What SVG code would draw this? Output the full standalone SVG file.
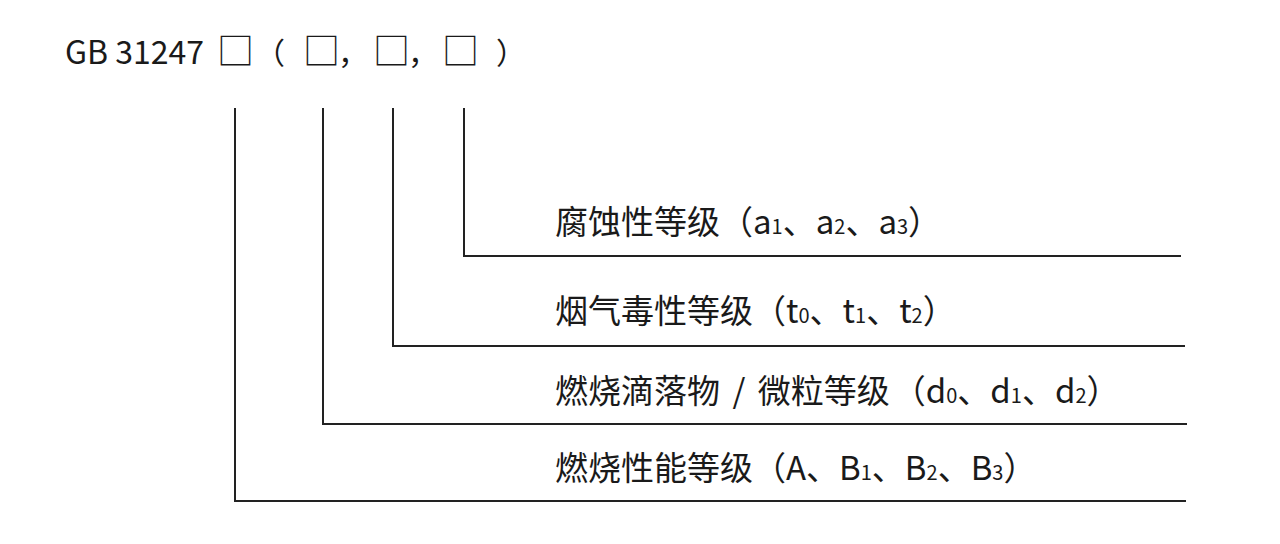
<svg xmlns="http://www.w3.org/2000/svg" width="1280" height="544" viewBox="0 0 1280 544">
<style>
.t{font-family:"Noto Sans CJK SC","Noto Sans",sans-serif;fill:#1a1a1a;}
.h{font-size:30px;}
.g{font-size:32px;}
.b{font-size:37px;}
.l{font-size:33px;}
.s{font-size:20px;}
.c line{stroke:#222;stroke-width:2;fill:none;}
</style>
<rect width="1280" height="544" fill="#fff"/>
<g id="title" class="t h">
<text y="64"><tspan class="g" x="65">GB 31247</tspan><tspan class="b" x="217" y="65">□</tspan><tspan x="255" y="64">（</tspan><tspan class="b" x="303" y="65">□</tspan><tspan x="338" y="64">，</tspan><tspan class="b" x="373" y="65">□</tspan><tspan x="408" y="64">，</tspan><tspan class="b" x="442" y="65">□</tspan><tspan x="496" y="64">）</tspan></text>
</g>
<g id="connectors" class="c">
<line x1="235" y1="108" x2="235" y2="501"/>
<line x1="234" y1="501" x2="1186" y2="501"/>
<line x1="323" y1="108" x2="323" y2="424"/>
<line x1="322" y1="424" x2="1187" y2="424"/>
<line x1="393" y1="108" x2="393" y2="346"/>
<line x1="392" y1="346" x2="1185" y2="346"/>
<line x1="464" y1="108" x2="464" y2="256"/>
<line x1="463" y1="256" x2="1181" y2="256"/>
</g>
<g id="n4" class="t l"><text x="555" y="234">腐蚀性等级（a<tspan class="s">1</tspan>、a<tspan class="s">2</tspan>、a<tspan class="s">3</tspan>）</text></g>
<g id="n3" class="t l"><text x="555" y="323">烟气毒性等级（t<tspan class="s">0</tspan>、t<tspan class="s">1</tspan>、t<tspan class="s">2</tspan>）</text></g>
<g id="n2" class="t l"><text x="555" y="403">燃烧滴落物 <tspan dx="5">/</tspan> <tspan dx="5">微粒等级</tspan><tspan dx="3">（</tspan>d<tspan class="s">0</tspan>、d<tspan class="s">1</tspan>、d<tspan class="s">2</tspan>）</text></g>
<g id="n1" class="t l"><text x="555" y="480">燃烧性能等级（A、B<tspan class="s">1</tspan>、B<tspan class="s">2</tspan>、B<tspan class="s">3</tspan>）</text></g>
</svg>
